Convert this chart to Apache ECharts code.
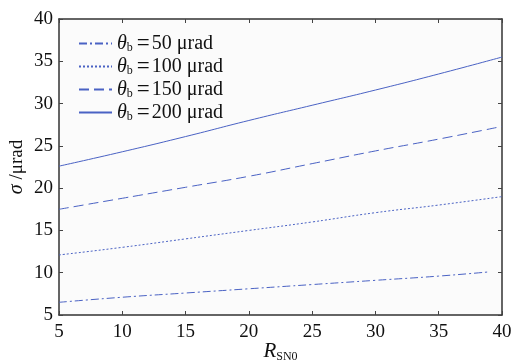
<!DOCTYPE html>
<html lang="en">
<head>
    <meta charset="UTF-8">
    <title>sigma vs R_SN0</title>
    <script src="https://cdn.jsdelivr.net/npm/echarts@6/dist/echarts.min.js"></script>
    <style>
        body { margin: 0; background: #fff; }
    </style>
</head>
<body>
    <div id="main" style="width:514px;height:364px;"></div>
    <script>
        // 横轴 R_SN0
        var xs = [5, 10, 15, 20, 25, 30, 35, 40];
        var xs50 = [5, 10, 15, 20, 25, 30, 35, 39];
        // 各束散角下的 sigma (μrad)
        var s50 = [6.5, 7.1, 7.6, 8.1, 8.6, 9.1, 9.6, 10.1];
        var s100 = [12.1, 13.0, 14.0, 15.0, 16.0, 17.1, 18.0, 19.0];
        var s150 = [17.5, 18.8, 20.1, 21.4, 22.9, 24.4, 25.8, 27.3];
        var s200 = [22.6, 24.3, 26.1, 28.0, 29.8, 31.6, 33.5, 35.5];
        var names = ['50', '100', '150', '200'];

        function pairs(x, y) {
            var out = [];
            for (var i = 0; i < x.length; i++) out.push([x[i], y[i]]);
            return out;
        }

        var blue = '#4a62c4';
        var serif = 'Liberation Serif';
        var dashes = [[8, 3, 2, 3], [2, 2], [10, 5], 'solid'];
        var datas = [pairs(xs50, s50), pairs(xs, s100), pairs(xs, s150), pairs(xs, s200)];

        var series = [];
        for (var k = 0; k < 4; k++) {
            series.push({
                name: names[k],
                type: 'line',
                data: datas[k],
                symbol: 'none',
                smooth: true,
                lineStyle: { color: blue, width: 1, type: dashes[k] },
                itemStyle: { color: blue }
            });
        }

        var axisLine = { lineStyle: { color: '#333', width: 1.5 } };
        var tick = { inside: true, length: 4, lineStyle: { color: '#444' } };
        var lab = { fontFamily: serif, fontSize: 19, color: '#111' };

        var myChart = echarts.init(document.getElementById('main'));
        myChart.setOption({
            backgroundColor: '#fff',
            animation: false,
            grid: {
                left: 59, right: 12, top: 19, bottom: 49,
                outerBoundsMode: 'none', containLabel: false,
                backgroundColor: '#fbfbfb', show: true, borderWidth: 0
            },
            legend: {
                orient: 'vertical',
                left: 78,
                top: 32,
                itemWidth: 33,
                itemHeight: 10,
                itemGap: 0,
                padding: 0,
                data: names,
                itemStyle: { opacity: 0 },
                formatter: function (n) {
                    return '{i|θ}{s|b}{e|=}{t|' + n + ' μrad}';
                },
                textStyle: {
                    rich: {
                        i: { fontFamily: serif, fontStyle: 'italic', fontSize: 20, color: '#111', lineHeight: 21 },
                        s: { fontFamily: serif, fontSize: 12, color: '#111', padding: [8, 3, 0, 0], lineHeight: 13 },
                        e: { fontFamily: serif, fontSize: 23, color: '#111', padding: [0, 2, 0, 1], lineHeight: 21 },
                        t: { fontFamily: serif, fontSize: 20, color: '#111', lineHeight: 21 }
                    }
                }
            },
            xAxis: [{
                type: 'value', min: 5, max: 40, interval: 5,
                axisLine: axisLine, axisTick: tick, splitLine: { show: false },
                axisLabel: Object.assign({ margin: 8 }, lab),
                name: '{i|R}{s|SN0}', nameLocation: 'middle', nameGap: 24, nameMoveOverlap: false,
                nameTextStyle: {
                    rich: {
                        i: { fontFamily: serif, fontStyle: 'italic', fontSize: 21, color: '#111' },
                        s: { fontFamily: serif, fontSize: 12, color: '#111', padding: [12, 0, 0, 0] }
                    }
                }
            }, {
                type: 'value', min: 5, max: 40, interval: 5, position: 'top',
                axisLine: axisLine, axisTick: tick, axisLabel: { show: false }, splitLine: { show: false }
            }],
            yAxis: [{
                type: 'value', min: 5, max: 40, interval: 5,
                axisLine: axisLine, axisTick: tick, splitLine: { show: false },
                axisLabel: Object.assign({ margin: 6 }, lab),
                name: '{i|σ} /μrad', nameLocation: 'middle', nameGap: 32, nameRotate: 90, nameMoveOverlap: false,
                nameTextStyle: {
                    fontFamily: serif, fontSize: 19, color: '#111',
                    rich: { i: { fontFamily: serif, fontStyle: 'italic', fontSize: 20, color: '#111' } }
                }
            }, {
                type: 'value', min: 5, max: 40, interval: 5, position: 'right',
                axisLine: axisLine, axisTick: tick, axisLabel: { show: false }, splitLine: { show: false }
            }],
            series: series
        });
    </script>
</body>
</html>
